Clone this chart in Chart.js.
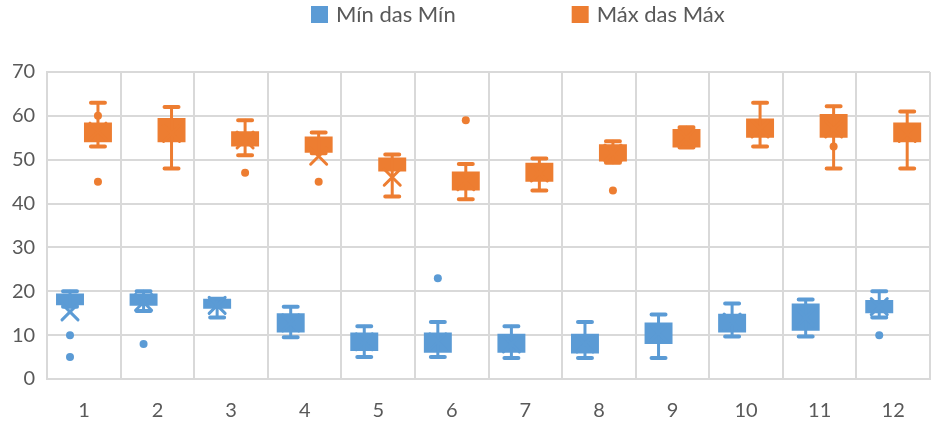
<!DOCTYPE html>
<html>
<head>
<meta charset="utf-8">
<script src="https://cdn.jsdelivr.net/npm/chart.js@4/dist/chart.umd.min.js"></script>
<style>
  html, body { margin: 0; padding: 0; background: #fff; }
  #wrap { width: 933px; height: 428px; }
</style>
</head>
<body>
<div id="wrap"><canvas id="boxChart"></canvas></div>
<script>
var categories = ['1', '2', '3', '4', '5', '6', '7', '8', '9', '10', '11', '12'];
var yTicks = [0, 10, 20, 30, 40, 50, 60, 70];

// Mín das Mín
var minLow  = [16.5, 15.5, 14, 9.5, 5, 5, 4.8, 4.8, 4.8, 9.7, 9.7, 14];
var minQ1   = [16.8, 16.7, 16, 10.6, 6.4, 6, 6, 5.8, 8, 10.6, 11, 15];
var minMed  = [18, 18, 17, 13, 8.5, 8, 8, 8, 10, 13, 14, 17];
var minQ3   = [19.5, 19.5, 18.3, 15, 10.6, 10.6, 10.3, 10.3, 12.9, 14.9, 17.2, 18];
var minHigh = [20, 20, 18.3, 16.5, 12, 13, 12, 13, 14.7, 17.2, 18.1, 20];
var minMean = [15.3, 17.5, 16.8, 12.8, 8.5, 8.5, 8, 8, 10.5, 13, 14, 16.5];
var minOut  = [[5, 10], [8], [], [], [], [23], [], [], [], [], [], [10]];

// Máx das Máx
var maxLow  = [53, 48, 51, 51.5, 41.6, 41, 43, 49.3, 52.8, 53, 48, 48];
var maxQ1   = [54, 54, 53, 51.6, 47.3, 43, 45, 49.6, 52.8, 55, 55, 54];
var maxMed  = [56, 56, 54.5, 53.5, 48.5, 45, 47, 51.5, 55, 57, 57, 56];
var maxQ3   = [58.5, 59.5, 56.5, 55.3, 50.5, 47.3, 49.3, 53.5, 57, 59.4, 60.4, 58.5];
var maxHigh = [63, 62, 59, 56.2, 51.2, 49, 50.3, 54.2, 57.4, 63, 62.2, 61];
var maxMean = [56.5, 56, 54.5, 50.8, 46, 45, 47, 51.5, 55, 57, 57, 56];
var maxOut  = [[45, 60], [], [47], [45], [], [59], [], [43], [], [], [53], []];

var blue = '#5B9BD5';
var orange = '#ED7D31';
var fontFamily = 'Lato, "Open Sans", sans-serif';

function boxes(q1, q3) {
    return q1.map(function (v, i) { return [v, q3[i]]; });
}

var stats = [
    { low: minLow, high: minHigh, mean: minMean, out: minOut },
    { low: maxLow, high: maxHigh, mean: maxMean, out: maxOut }
];

// whiskers, mean markers and outliers drawn on top of the floating bars
var boxPlugin = {
    id: 'boxExtras',
    afterDatasetsDraw: function (chart) {
        var c = chart.ctx;
        var y = chart.scales.y;
        chart.data.datasets.forEach(function (ds, di) {
            var meta = chart.getDatasetMeta(di);
            var s = stats[di];
            c.save();
            c.strokeStyle = ds.backgroundColor;
            c.fillStyle = ds.backgroundColor;
            c.lineCap = 'round';
            meta.data.forEach(function (bar, i) {
                var x = bar.x;
                var half = bar.width / 4;
                var top = y.getPixelForValue(s.high[i]);
                var bot = y.getPixelForValue(s.low[i]);
                c.lineWidth = 3;
                c.beginPath();
                c.moveTo(x, top); c.lineTo(x, bot);
                c.stroke();
                c.lineWidth = 4;
                c.beginPath();
                c.moveTo(x - half, top); c.lineTo(x + half, top);
                c.moveTo(x - half, bot); c.lineTo(x + half, bot);
                c.stroke();
                // mean marker
                var my = y.getPixelForValue(s.mean[i]);
                c.lineWidth = 3;
                c.beginPath();
                c.moveTo(x - 8, my - 8); c.lineTo(x + 8, my + 8);
                c.moveTo(x + 8, my - 8); c.lineTo(x - 8, my + 8);
                c.stroke();
                s.out[i].forEach(function (v) {
                    c.beginPath();
                    c.arc(x, y.getPixelForValue(v), 4, 0, Math.PI * 2);
                    c.fill();
                });
            });
            c.restore();
        });
    }
};

// legend like Excel's: wide gap between the two entries
var legendPlugin = {
    id: 'wideLegend',
    afterDraw: function (chart) {
        var c = chart.ctx;
        c.save();
        c.font = '22px ' + fontFamily;
        c.textBaseline = 'middle';
        var x = 311;
        chart.data.datasets.forEach(function (ds) {
            c.fillStyle = ds.backgroundColor;
            c.fillRect(x, 6, 17, 17);
            c.fillStyle = '#595959';
            c.fillText(ds.label, x + 25, 15);
            x += 25 + c.measureText(ds.label).width + 116;
        });
        c.restore();
    }
};

var ctx = document.getElementById('boxChart').getContext('2d');
var myChart = new Chart(ctx, {
    type: 'bar',
    data: {
        labels: categories,
        datasets: [{
            label: 'Mín das Mín',
            data: boxes(minQ1, minQ3),
            backgroundColor: blue,
            borderWidth: 0
        }, {
            label: 'Máx das Máx',
            data: boxes(maxQ1, maxQ3),
            backgroundColor: orange,
            borderWidth: 0
        }]
    },
    options: {
        responsive: true,
        maintainAspectRatio: false,
        animation: false,
        categoryPercentage: 0.76,
        barPercentage: 1.0,
        layout: { padding: { left: 0, right: 3, top: 72, bottom: -15 } },
        plugins: {
            legend: { display: false },
            tooltip: { enabled: false }
        },
        scales: {
            x: {
                grid: { color: '#d9d9d9', lineWidth: 2, offset: true, drawTicks: false },
                border: { color: '#d9d9d9', width: 2 },
                ticks: {
                    color: '#595959',
                    padding: 20,
                    font: { family: fontFamily, size: 20 }
                }
            },
            y: {
                min: 0,
                max: 70,
                afterBuildTicks: function (axis) {
                    axis.ticks = yTicks.map(function (v) { return { value: v }; });
                },
                grid: { color: '#d9d9d9', lineWidth: 2, drawTicks: false },
                border: { color: '#d9d9d9', width: 2 },
                ticks: {
                    color: '#595959',
                    padding: 12,
                    font: { family: fontFamily, size: 20 }
                }
            }
        }
    },
    plugins: [boxPlugin, legendPlugin]
});
</script>
</body>
</html>
